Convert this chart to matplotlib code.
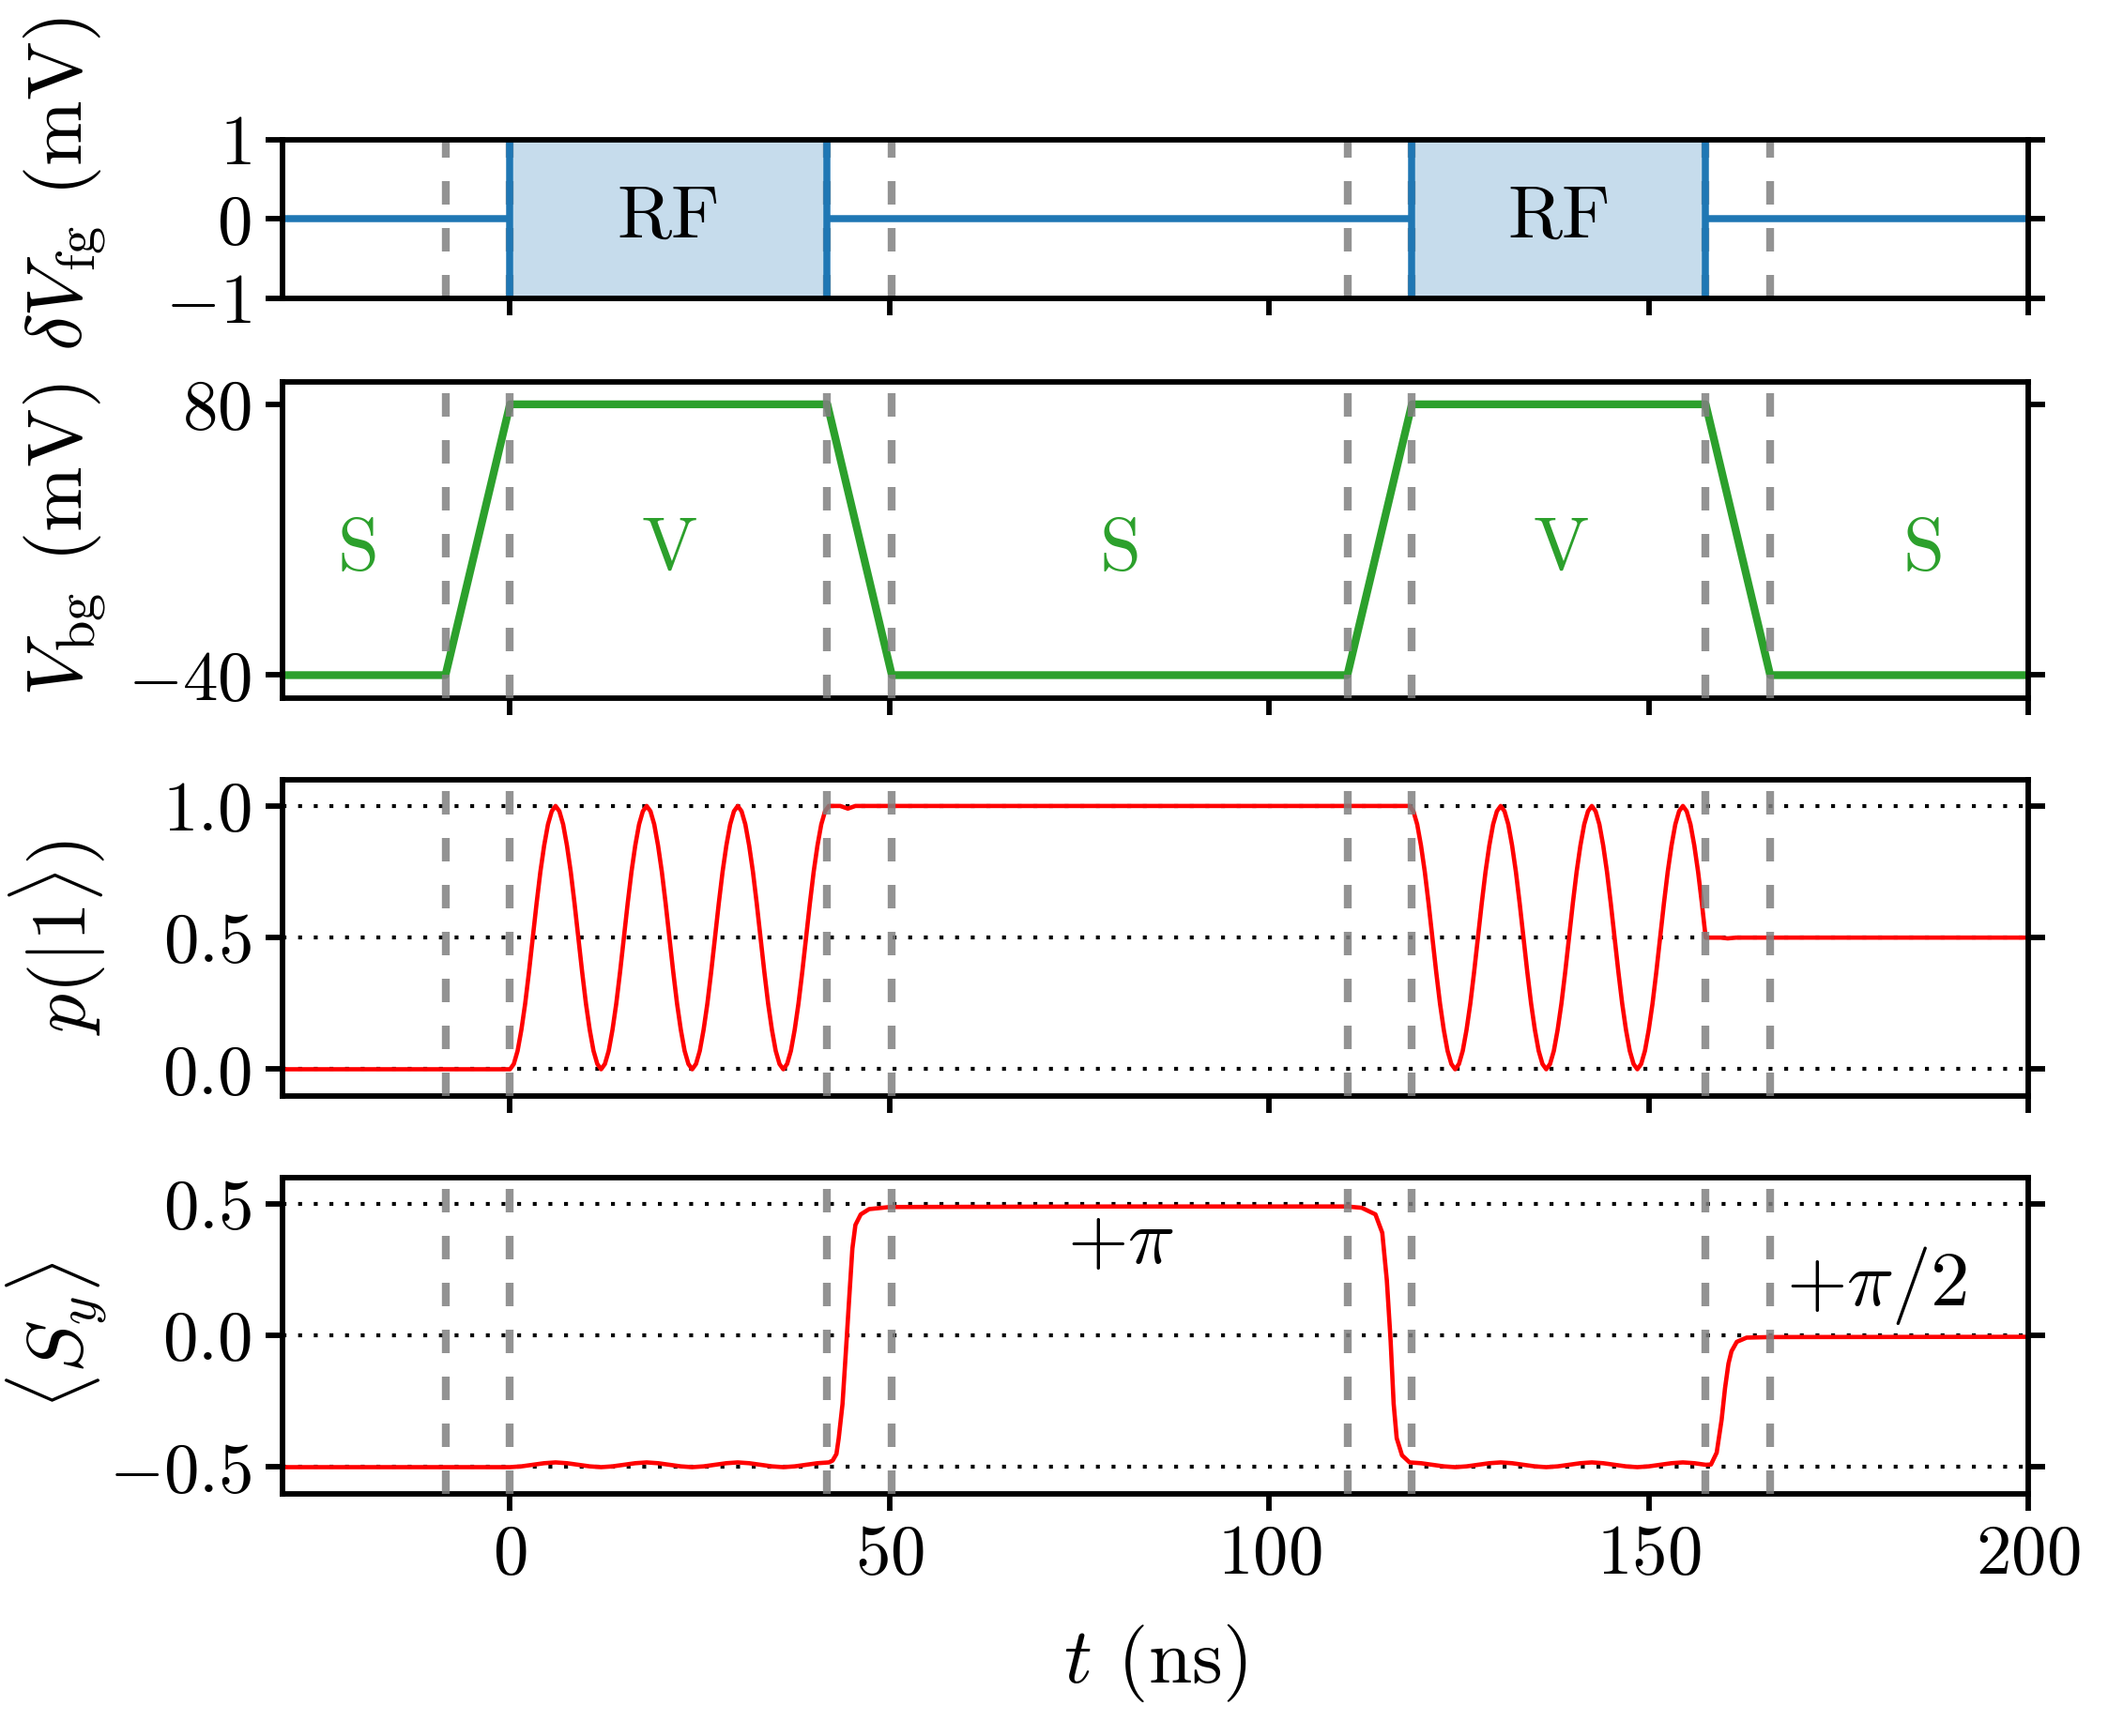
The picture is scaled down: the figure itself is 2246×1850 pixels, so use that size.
import numpy as np
import matplotlib
matplotlib.use('Agg')
import matplotlib.pyplot as plt

plt.rcParams['font.family'] = 'serif'
plt.rcParams['font.serif'] = ['cmr10']
plt.rcParams['mathtext.fontset'] = 'cm'
plt.rcParams['axes.formatter.use_mathtext'] = True
plt.rcParams['font.size'] = 18

# ---- data ----
t_marks = [-8.5, 0.0, 41.8, 50.3, 110.3, 118.8, 157.5, 166.0]   # dashed lines

# RF bursts on the fine gate
rf_on = [0.0, 118.8]
rf_off = [41.8, 157.5]

# back gate voltage (mV)
vbg_t = [-30, -8.5, 0.0, 41.8, 50.3, 110.3, 118.8, 157.5, 166.0, 200]
vbg = [-40, -40, 80, 80, -40, -40, 80, 80, -40, -40]
stage_x = [-20, 21, 80.4, 138.4, 186.2]
stage_lbl = ['S', 'V', 'S', 'V', 'S']

# p(|1>) : first burst, 0.5 ns samples from t = 0
p_rf1 = [0.00, 0.02, 0.07, 0.15, 0.25, 0.37, 0.50, 0.63, 0.75, 0.85, 0.93, 0.98,
         1.00, 0.98, 0.93, 0.85, 0.75, 0.63, 0.50, 0.37, 0.25, 0.15, 0.07, 0.02,
         0.00, 0.02, 0.07, 0.15, 0.25, 0.37, 0.50, 0.63, 0.75, 0.85, 0.93, 0.98,
         1.00, 0.98, 0.93, 0.85, 0.75, 0.63, 0.50, 0.37, 0.25, 0.15, 0.07, 0.02,
         0.00, 0.02, 0.07, 0.15, 0.25, 0.37, 0.50, 0.63, 0.75, 0.85, 0.93, 0.98,
         1.00, 0.98, 0.93, 0.85, 0.75, 0.63, 0.50, 0.37, 0.25, 0.15, 0.07, 0.02,
         0.00, 0.02, 0.07, 0.15, 0.25, 0.37, 0.50, 0.63, 0.75, 0.85, 0.93, 0.98,
         1.00]
p_rf1_start, p_rf1_end = 0.0, 42.0
# second burst, 0.5 ns samples from t = 118.5
p_rf2 = [1.00, 0.98, 0.93, 0.85, 0.75, 0.63, 0.50, 0.37, 0.25, 0.15, 0.07, 0.02,
         0.00, 0.02, 0.07, 0.15, 0.25, 0.37, 0.50, 0.63, 0.75, 0.85, 0.93, 0.98,
         1.00, 0.98, 0.93, 0.85, 0.75, 0.63, 0.50, 0.37, 0.25, 0.15, 0.07, 0.02,
         0.00, 0.02, 0.07, 0.15, 0.25, 0.37, 0.50, 0.63, 0.75, 0.85, 0.93, 0.98,
         1.00, 0.98, 0.93, 0.85, 0.75, 0.63, 0.50, 0.37, 0.25, 0.15, 0.07, 0.02,
         0.00, 0.02, 0.07, 0.15, 0.25, 0.37, 0.50, 0.63, 0.75, 0.85, 0.93, 0.98,
         1.00, 0.98, 0.93, 0.85, 0.75, 0.63, 0.50]
p_rf2_start, p_rf2_end = 118.5, 157.5
p_pre_t, p_pre = [-30.0], [0.0]
p_mid_t, p_mid = [43.5, 44.5, 45.5], [1.0, 0.99, 1.0]
p_post_t, p_post = [159.5, 160.4, 161.5, 200.0], [0.5, 0.497, 0.5, 0.5]

# <S_y>
sy_t = [-30, 0, 1.5, 3, 4.5, 6, 7.5, 9, 10.5, 12, 13.5, 15, 16.5, 18, 19.5, 21, 22.5,
        24, 25.5, 27, 28.5, 30, 31.5, 33, 34.5, 36, 37.5, 39, 40.5, 42,
        42.5, 43.0, 43.3, 43.8, 44.2, 44.7, 45.1, 45.5, 46.2, 47.3, 50, 80,
        110.3, 112.2, 114.0, 114.9, 115.5, 116.0, 116.4, 116.8, 117.5,
        118.5, 120, 121.5, 123, 124.5, 126, 127.5, 129, 130.5, 132, 133.5, 135,
        136.5, 138, 139.5, 141, 142.5, 144, 145.5, 147, 148.5, 150, 151.5, 153,
        154.5, 156, 157.5,
        158.2, 158.95, 159.6, 160.05, 160.5, 160.9, 161.6, 162.9, 166, 200]
sy = [-0.5, -0.5, -0.497, -0.491, -0.485, -0.482, -0.485, -0.491, -0.497,
      -0.5, -0.497, -0.491, -0.485, -0.482, -0.485, -0.491, -0.497,
      -0.5, -0.497, -0.491, -0.485, -0.482, -0.485, -0.491, -0.497,
      -0.5, -0.497, -0.491, -0.485, -0.482,
      -0.475, -0.45, -0.39, -0.26, -0.08, 0.15, 0.33, 0.42, 0.46, 0.48, 0.488, 0.49,
      0.49, 0.485, 0.46, 0.39, 0.21, -0.02, -0.26, -0.39, -0.455,
      -0.482, -0.485, -0.491, -0.497, -0.5, -0.497, -0.491, -0.485,
      -0.482, -0.485, -0.491, -0.497, -0.5, -0.497, -0.491, -0.485,
      -0.482, -0.485, -0.491, -0.497, -0.5, -0.497, -0.491, -0.485,
      -0.482, -0.485, -0.491,
      -0.49, -0.445, -0.32, -0.2, -0.107, -0.06, -0.024, -0.008, -0.006, -0.005]

# ---- figure ----
fig = plt.figure(figsize=(2246 / 300, 1850 / 300), dpi=300)
left, width = 0.1339, 0.8283
ax1 = fig.add_axes([left, 0.8281, width, 0.0914])
ax2 = fig.add_axes([left, 0.5981, width, 0.1820], sharex=ax1)
ax3 = fig.add_axes([left, 0.3689, width, 0.1820], sharex=ax1)
ax4 = fig.add_axes([left, 0.1397, width, 0.1820], sharex=ax1)
axes = [ax1, ax2, ax3, ax4]

blue = '#1f77b4'
green = '#2ca02c'

for i, ax in enumerate(axes):
    for tm in t_marks:
        ax.axvline(tm, color='gray', alpha=0.85, lw=2, dashes=(3, 3),
                   zorder=1 if i == 0 else 3)
    for s in ax.spines.values():
        s.set_linewidth(1.4)
    ax.tick_params(which='both', direction='out', length=4.4, width=1.4,
                   right=True, top=False, labelsize=18)
    ax.set_xlim(-30, 200)
    ax.set_xticks([0, 50, 100, 150, 200])
    if ax is not ax4:
        ax.tick_params(labelbottom=False)

# panel 1 : fine gate RF
idle_start = [-30] + rf_off
idle_end = rf_on + [200]
ax1.hlines(np.zeros(len(idle_start)), idle_start, idle_end, color=blue, lw=1.8, zorder=2)
for a, b in zip(rf_on, rf_off):
    ax1.fill_between([a, b], -1, 1, color=blue, alpha=0.25, lw=0, zorder=1.5)
    ax1.vlines([a, b], -1, 1, color=blue, lw=1.8, zorder=2)
    ax1.text((a + b) / 2, 0.0, 'RF', ha='center', va='center', fontsize=19)
ax1.set_ylim(-1, 1)
ax1.set_yticks([-1, 0, 1])
ax1.set_ylabel(r'$\delta V_{\rm fg}$ (mV)', fontsize=20)

# panel 2 : back gate
ax2.plot(vbg_t, vbg, color=green, lw=2.0, zorder=2)
for x, s in zip(stage_x, stage_lbl):
    ax2.text(x, 15, s, color=green, ha='center', va='center', fontsize=19)
ax2.set_ylim(-50, 90)
ax2.set_yticks([-40, 80])
ax2.set_ylabel(r'$V_{\rm bg}$ (mV)', fontsize=20)

# panel 3 : p(|1>)
p_t = np.concatenate([p_pre_t,
                      np.linspace(p_rf1_start, p_rf1_end, len(p_rf1)),
                      p_mid_t,
                      np.linspace(p_rf2_start, p_rf2_end, len(p_rf2)),
                      p_post_t])
p_v = np.concatenate([p_pre, p_rf1, p_mid, p_rf2, p_post])
for yl in [0, 0.5, 1]:
    ax3.axhline(yl, color='k', lw=1, dashes=(1, 3), zorder=1)
ax3.plot(p_t, p_v, color='red', lw=1.1, zorder=2)
ax3.set_ylim(-0.1, 1.1)
ax3.set_yticks([0, 0.5, 1])
ax3.set_ylabel(r'$p(|1\rangle)$', fontsize=20)

# panel 4 : <S_y>
for yl in [-0.5, 0, 0.5]:
    ax4.axhline(yl, color='k', lw=1, dashes=(1, 3), zorder=1)
ax4.plot(sy_t, sy, color='red', lw=1.1, zorder=2)
ax4.text(80.4, 0.35, r'$+\pi$', ha='center', va='center', fontsize=20)
ax4.text(180, 0.19, r'$+\pi/2$', ha='center', va='center', fontsize=20)
ax4.set_ylim(-0.6, 0.6)
ax4.set_yticks([-0.5, 0, 0.5])
ax4.set_ylabel(r'$\langle S_y\rangle$', fontsize=20)
ax4.set_xlabel(r'$t$ (ns)', fontsize=20, labelpad=9)

for ax in axes:
    ax.yaxis.set_label_coords(-0.10, 0.5)
ax1.yaxis.set_label_coords(-0.10, 0.72)

fig.savefig('out.png', dpi=300)
